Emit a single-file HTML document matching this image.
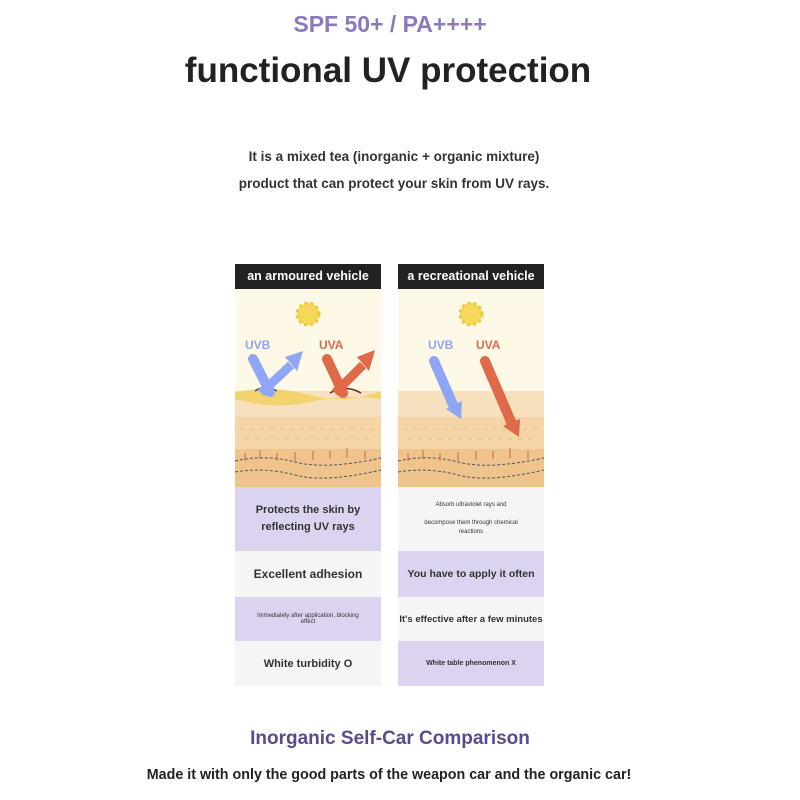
<!DOCTYPE html>
<html><head><meta charset="utf-8"><style>
body{margin:0;width:800px;height:800px;background:#fff;font-family:"Liberation Sans",sans-serif;position:relative;overflow:hidden}
.t{position:absolute;left:0;width:800px;text-align:center;font-weight:bold}
.col{position:absolute;width:146px}
.hd{height:25px;background:#222;color:#fff;font-size:12.5px;font-weight:bold;text-align:center;line-height:25px;white-space:nowrap}
.r{display:flex;align-items:center;justify-content:center;text-align:center;color:#333;font-weight:bold;white-space:nowrap}
.p{background:#dcd3f1}.w{background:#f5f5f5}
</style></head><body>
<div class="t" style="top:11px;left:-10px;font-size:23px;color:#8b79bd">SPF 50+ / PA++++</div>
<div class="t" style="top:51px;left:-12px;font-size:35px;color:#222">functional UV protection</div>
<div class="t" style="top:143px;left:-6px;font-size:13.5px;color:#333;line-height:27px">It is a mixed tea (inorganic + organic mixture)<br>product that can protect your skin from UV rays.</div>

<svg style="position:absolute;left:0;top:0" width="800" height="800">
<defs>
<g id="skin">
<rect x="0" y="0" width="146" height="198" fill="#fdf9e6"/>
<rect x="0" y="102" width="146" height="96" fill="#f7e0bd"/>
<rect x="0" y="128" width="146" height="34" fill="#f5d5a5"/>
<path d="M5 140 h136 M10 150 h130" stroke="#e8bd8a" stroke-dasharray="4 6"/>
<rect x="0" y="160" width="146" height="38" fill="#efc48c"/>
<path d="M0 172 Q30 165 60 173 T146 169" stroke="#555" fill="none" stroke-dasharray="3 2"/>
<path d="M0 183 Q30 178 60 186 T146 181" stroke="#555" fill="none" stroke-dasharray="3 2"/>
<path d="M10 172 v-8 M25 170 v-9 M42 172 v-8 M60 173 v-10 M78 171 v-9 M95 170 v-8 M112 169 v-10 M130 170 v-8" stroke="#c8684a" stroke-width="1"/>
<circle cx="73" cy="25" r="11" fill="#f5d85a" stroke="#f0c93a" stroke-width="3" stroke-dasharray="3 3"/>
</g>
</defs>
<g transform="translate(235,289)"><use href="#skin"/>
<path d="M0 103 Q40 96 75 106 T146 102 L146 110 Q110 105 75 113 T0 110Z" fill="#f3d36d"/>
<path d="M20 102 Q30 95 42 102" stroke="#4a4a70" fill="none" stroke-width="1.5"/>
<path d="M95 104 Q110 95 126 104" stroke="#6a2a20" fill="none" stroke-width="1.5"/>
<path d="M18 70 L35 103" stroke="#8ea6f5" stroke-width="10" stroke-linecap="round"/>
<path d="M26 104 L56 76" stroke="#8ea6f5" stroke-width="9"/><path d="M50 68 L68 62 L62 82Z" fill="#8ea6f5"/>
<path d="M92 70 L108 104" stroke="#e0694a" stroke-width="10" stroke-linecap="round"/>
<path d="M100 104 L128 76" stroke="#e0694a" stroke-width="9"/><path d="M122 68 L140 61 L134 82Z" fill="#e0694a"/>
<text x="10" y="60" font-size="12" font-weight="bold" fill="#8ea6f5">UVB</text>
<text x="84" y="60" font-size="12" font-weight="bold" fill="#e0694a">UVA</text>
</g>
<g transform="translate(398,289)"><use href="#skin"/>
<path d="M36 72 L56 118" stroke="#8ea6f5" stroke-width="10" stroke-linecap="round"/><path d="M48 120 L64 112 L63 130Z" fill="#8ea6f5"/>
<path d="M87 72 L114 135" stroke="#e0694a" stroke-width="10" stroke-linecap="round"/><path d="M105 137 L122 130 L121 148Z" fill="#e0694a"/>
<text x="30" y="60" font-size="12" font-weight="bold" fill="#8ea6f5">UVB</text>
<text x="78" y="60" font-size="12" font-weight="bold" fill="#e0694a">UVA</text>
</g>
</svg>

<div class="col" style="left:235px;top:264px">
<div class="hd">an armoured vehicle</div>
<div style="height:198px"></div>
<div class="r p" style="height:64px;font-size:11px;line-height:17px">Protects the skin by<br>reflecting UV rays</div>
<div class="r w" style="height:46px;font-size:12px">Excellent adhesion</div>
<div class="r p" style="height:44px;font-size:6px;font-weight:normal">immediately after application, blocking<br>effect</div>
<div class="r w" style="height:45px;font-size:11px">White turbidity O</div>
</div>
<div class="col" style="left:398px;top:264px">
<div class="hd">a recreational vehicle</div>
<div style="height:198px"></div>
<div class="r w" style="height:64px;font-size:6px;font-weight:normal;line-height:9px">Absorb ultraviolet rays and<br><br>decompose them through chemical<br>reactions</div>
<div class="r p" style="height:46px;font-size:10.5px">You have to apply it often</div>
<div class="r w" style="height:44px;font-size:9.5px">It's effective after a few minutes</div>
<div class="r p" style="height:45px;font-size:7px">White table phenomenon X</div>
</div>

<div class="t" style="top:728px;left:-10px;font-size:19px;color:#5a4a8e">Inorganic Self-Car Comparison</div>
<div class="t" style="top:767px;left:-11px;font-size:14.3px;color:#222">Made it with only the good parts of the weapon car and the organic car!</div>
</body></html>
